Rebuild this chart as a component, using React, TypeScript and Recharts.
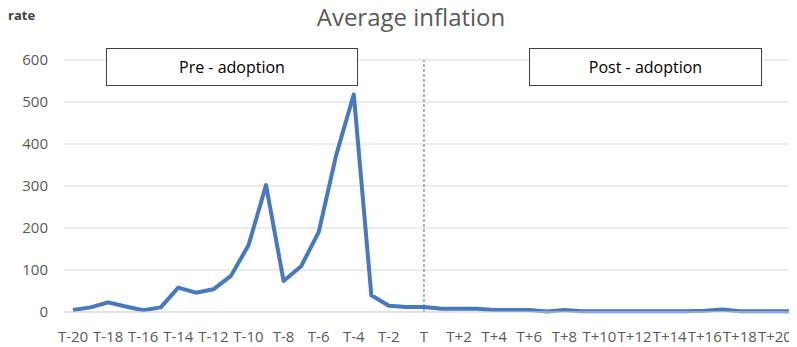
import { LineChart, Line, XAxis, YAxis, CartesianGrid, ReferenceLine } from 'recharts';

const periods = [
  'T-20', 'T-19', 'T-18', 'T-17', 'T-16', 'T-15', 'T-14', 'T-13', 'T-12', 'T-11',
  'T-10', 'T-9', 'T-8', 'T-7', 'T-6', 'T-5', 'T-4', 'T-3', 'T-2', 'T-1',
  'T', 'T+1', 'T+2', 'T+3', 'T+4', 'T+5', 'T+6', 'T+7', 'T+8', 'T+9',
  'T+10', 'T+11', 'T+12', 'T+13', 'T+14', 'T+15', 'T+16', 'T+17', 'T+18', 'T+19',
  'T+20', 'T+21',
];

const inflation = [
  5, 11, 23, 13, 4, 11, 58, 46, 54, 86,
  159, 302, 74, 109, 190, 374, 518, 40, 15, 12,
  12, 8, 8, 8, 5, 5, 5, 1, 5, 2,
  2, 2, 2, 2, 2, 2, 3, 6, 2, 2,
  2, 2,
];

const yTicks = [0, 100, 200, 300, 400, 500, 600];

const adoptionPoint = 'T';

const FONT = '"Open Sans", "Noto Sans", sans-serif';

export default function App() {
  const chartData = periods.map((p, i) => ({ period: p, rate: inflation[i] }));

  const boxStyle: React.CSSProperties = {
    position: 'absolute',
    top: 40,
    height: 38,
    boxSizing: 'border-box',
    border: '1px solid #404040',
    background: '#fff',
    fontSize: 16,
    color: '#000',
    display: 'flex',
    alignItems: 'center',
    justifyContent: 'center',
    fontFamily: FONT,
  };

  return (
    <div style={{ position: 'relative', width: 789, height: 339, fontFamily: FONT, background: '#fff' }}>
      <LineChart width={789} height={339} data={chartData} margin={{ top: 52, right: 0, bottom: 5, left: 0 }}>
        <CartesianGrid vertical={false} stroke="#d9d9d9" />
        <XAxis
          dataKey="period"
          interval={1}
          tickLine={false}
          axisLine={{ stroke: '#d9d9d9' }}
          tickMargin={13}
          padding={{ left: 9, right: 4.5 }}
          tick={{ fontSize: 15, fill: '#595959', fontFamily: FONT }}
        />
        <YAxis
          width={56}
          domain={[0, 600]}
          ticks={yTicks}
          tickLine={false}
          axisLine={false}
          tickMargin={10}
          tick={{ fontSize: 15, fill: '#595959', fontFamily: FONT }}
        />
        <ReferenceLine x={adoptionPoint} stroke="#4a86d4" strokeDasharray="3 2" strokeWidth={1.2} />
        <Line
          type="linear"
          dataKey="rate"
          stroke="#4679c0"
          strokeWidth={4}
          strokeLinejoin="round"
          dot={false}
          isAnimationActive={false}
        />
      </LineChart>

      <div style={{ position: 'absolute', left: 0, top: -2, fontSize: 13, fontWeight: 'bold', color: '#404040' }}>rate</div>
      <div style={{ position: 'absolute', left: 0, width: 806, top: -8, textAlign: 'center', fontSize: 24, color: '#595959' }}>
        Average inflation
      </div>
      <div style={{ ...boxStyle, left: 98, width: 252 }}>Pre - adoption</div>
      <div style={{ ...boxStyle, left: 521, width: 233 }}>Post - adoption</div>
    </div>
  );
}
